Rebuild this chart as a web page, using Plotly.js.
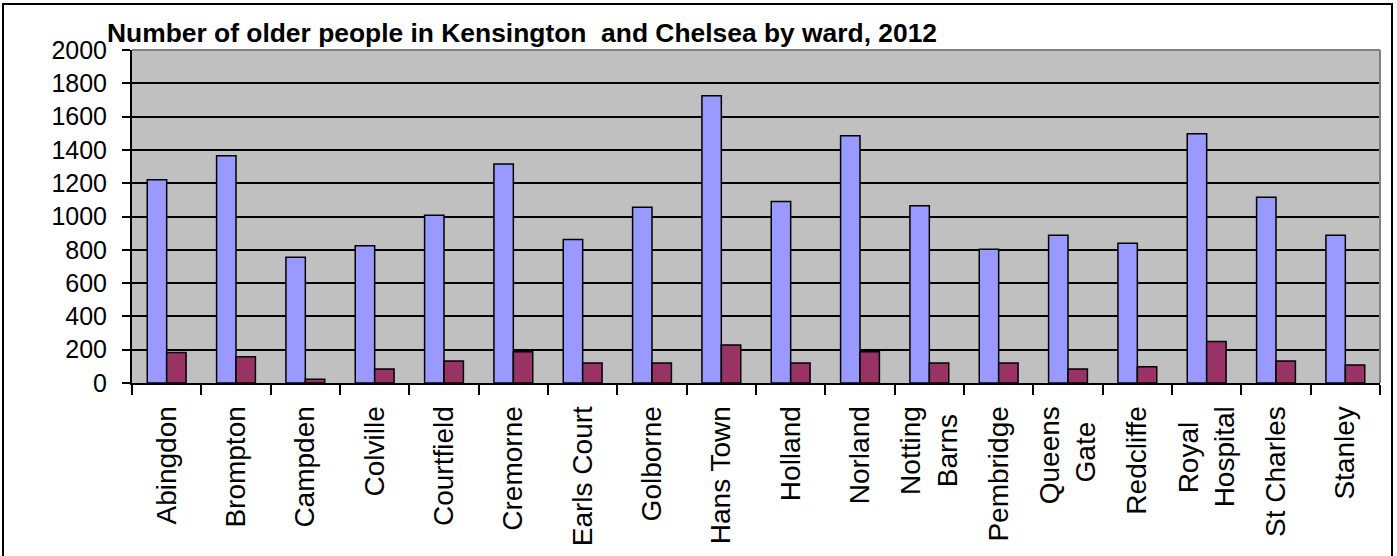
<!DOCTYPE html>
<html>
<head>
<meta charset="utf-8">
<script src="https://cdn.plot.ly/plotly-3.0.1.min.js"></script>
<style>
  html, body { margin: 0; padding: 0; background: #ffffff; overflow: hidden; }
  #chart { width: 1397px; height: 556px; }
  #frame { position: absolute; left: 2px; top: 3px; width: 1387px; height: 600px;
           border: 2px solid #000; pointer-events: none; box-sizing: content-box; }
</style>
</head>
<body>
<div id="chart"></div>
<div id="frame"></div>
<script>
const wards = ["Abingdon", "Brompton", "Campden", "Colville", "Courtfield", "Cremorne",
  "Earls Court", "Golborne", "Hans Town", "Holland", "Norland", "Notting<br>Barns",
  "Pembridge", "Queens<br>Gate", "Redcliffe", "Royal<br>Hospital", "St Charles", "Stanley"];
const seriesA = [1220, 1365, 755, 825, 1008, 1315, 862, 1055, 1725, 1090, 1485, 1065,
  803, 888, 840, 1497, 1115, 888];
const seriesB = [183, 158, 22, 84, 132, 188, 120, 120, 228, 120, 188, 120,
  120, 84, 98, 250, 132, 108];
const yTicks = [0, 200, 400, 600, 800, 1000, 1200, 1400, 1600, 1800, 2000];
const titleText = "Number of older people in Kensington\u00a0 and Chelsea by ward, 2012";

// centre the lines of two-line rotated labels (Plotly end-aligns them)
const NB = "\u00a0";
function centreLines(label) {
  const lines = label.split("<br>");
  if (lines.length < 2) return label;
  const pad = { "Barns": 1, "Gate": 2, "Royal": 2 };
  return lines.map(l => l + NB.repeat(pad[l] || 0)).join("<br>");
}

const traces = [
  { type: "bar", x: wards, y: seriesA, name: "Series 1",
    marker: { color: "#9999FF", line: { color: "#000000", width: 1.5 } } },
  { type: "bar", x: wards, y: seriesB, name: "Series 2",
    marker: { color: "#993366", line: { color: "#000000", width: 1.5 } } }
];

const layout = {
  width: 1397, height: 556,
  margin: { l: 132, r: 17, t: 50, b: 173, pad: 0 },
  paper_bgcolor: "#ffffff",
  plot_bgcolor: "#C0C0C0",
  showlegend: false,
  barmode: "group",
  bargap: 0.44,
  bargroupgap: 0,
  font: { family: "Liberation Sans, Arial, sans-serif", color: "#000000" },
  title: {
    text: titleText,
    font: { family: "Liberation Sans, Arial, sans-serif", size: 26.4, weight: "bold", color: "#000" },
    x: 107 / 1397, xanchor: "left", xref: "container",
    y: 1 - 24 / 556, yanchor: "top", yref: "container"
  },
  xaxis: {
    type: "category",
    tickmode: "array", tickvals: wards, ticktext: wards.map(centreLines),
    tickson: "boundaries",
    ticks: "outside", ticklen: 10, tickwidth: 2, tickcolor: "#000",
    tickangle: -90,
    tickfont: { size: 28, family: "Liberation Sans, Arial, sans-serif", color: "#000" },
    ticklabelstandoff: 10,
    showline: true, linecolor: "#000", linewidth: 2,
    showgrid: false, zeroline: false, fixedrange: true
  },
  yaxis: {
    range: [0, 2000],
    tickmode: "array", tickvals: yTicks, ticktext: yTicks.map(String),
    ticks: "outside", ticklen: 8, tickwidth: 2, tickcolor: "#000",
    tickfont: { size: 25, family: "Liberation Sans, Arial, sans-serif", color: "#000" },
    ticklabelstandoff: 10,
    showline: true, linecolor: "#000", linewidth: 2,
    showgrid: true, gridcolor: "#000", gridwidth: 2,
    zeroline: false, fixedrange: true
  },
  shapes: [
    { type: "line", xref: "paper", yref: "paper", x0: 0, x1: 1, y0: 1, y1: 1,
      line: { color: "#808080", width: 2 }, layer: "above" },
    { type: "line", xref: "paper", yref: "paper", x0: 1, x1: 1, y0: 0, y1: 1,
      line: { color: "#808080", width: 2 }, layer: "above" }
  ]
};

Plotly.newPlot("chart", traces, layout, { displayModeBar: false, staticPlot: true });
</script>
</body>
</html>
